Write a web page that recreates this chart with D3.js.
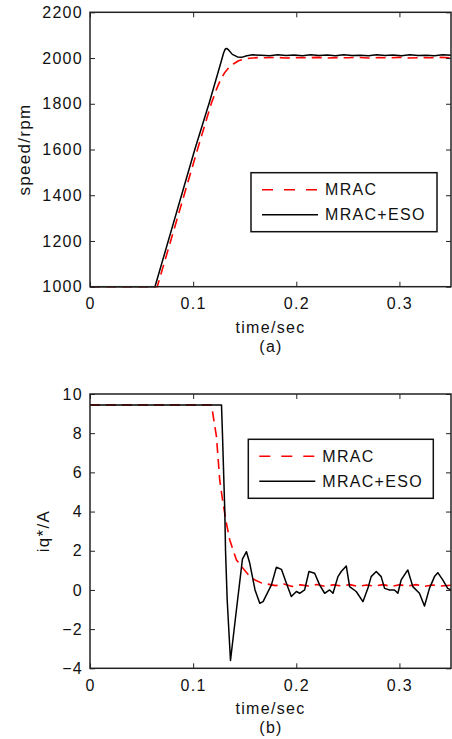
<!DOCTYPE html>
<html>
  <head>
    <meta charset="utf-8" />
    <style>
      body { margin: 0; background: #fff; }
      svg text { font-family: "Liberation Sans", Arial, sans-serif; font-size: 16px; letter-spacing: 1.3px; fill: #111; }
    </style>
  </head>
  <body>
    <svg id="chart" width="452" height="739"></svg>

    <script src="https://cdn.jsdelivr.net/npm/d3@7/dist/d3.min.js"></script>
    <script>
      // time in seconds
      const seriesNames = ["MRAC", "MRAC+ESO"];
      const timeTicks = [0, 0.1, 0.2, 0.3];
      const speedTicks = [1000, 1200, 1400, 1600, 1800, 2000, 2200];
      const iqTicks = [-4, -2, 0, 2, 4, 6, 8, 10];

      const speedMrac = [
        [0, 1000], [0.0652, 1000], [0.1042, 1600], [0.1175, 1800], [0.1225, 1862],
        [0.1265, 1905], [0.1307, 1937], [0.135, 1960], [0.139, 1974], [0.144, 1988],
        [0.149, 1995], [0.155, 1999], [0.163, 2002], [0.17, 2001], [0.18, 2003],
        [0.19, 2000], [0.2, 2002], [0.21, 2001], [0.22, 2003], [0.23, 2000],
        [0.24, 2002], [0.25, 2001], [0.26, 2003], [0.27, 2000], [0.28, 2002],
        [0.29, 2001], [0.3, 2003], [0.31, 2000], [0.32, 2002], [0.33, 2001],
        [0.34, 2003], [0.35, 2001]
      ];
      const speedEso = [
        [0, 1000], [0.063, 1000], [0.1016, 1600], [0.116, 1810], [0.1272, 1985],
        [0.1295, 2022], [0.1312, 2040], [0.1325, 2042], [0.134, 2037], [0.138, 2016],
        [0.143, 2005], [0.147, 2003], [0.152, 2010], [0.158, 2014], [0.166, 2012],
        [0.174, 2010], [0.182, 2014], [0.19, 2011], [0.198, 2013], [0.206, 2010],
        [0.214, 2014], [0.222, 2011], [0.23, 2013], [0.238, 2010], [0.246, 2014],
        [0.254, 2011], [0.262, 2012], [0.27, 2010], [0.278, 2014], [0.286, 2011],
        [0.294, 2013], [0.302, 2010], [0.31, 2014], [0.318, 2011], [0.326, 2012],
        [0.334, 2010], [0.342, 2014], [0.35, 2012]
      ];

      const iqMrac = [
        [0, 9.44], [0.1178, 9.44], [0.1226, 7.82], [0.1258, 5.6], [0.129, 4.42],
        [0.1323, 3.4], [0.1355, 2.55], [0.142, 1.53], [0.1484, 1.1], [0.1549, 0.68],
        [0.16, 0.51], [0.166, 0.36], [0.172, 0.3], [0.18, 0.22], [0.188, 0.3],
        [0.196, 0.18], [0.204, 0.26], [0.212, 0.2], [0.22, 0.28], [0.228, 0.18],
        [0.236, 0.26], [0.244, 0.2], [0.252, 0.27], [0.26, 0.18], [0.268, 0.25],
        [0.276, 0.2], [0.284, 0.27], [0.292, 0.18], [0.3, 0.26], [0.308, 0.2],
        [0.316, 0.27], [0.324, 0.18], [0.332, 0.25], [0.34, 0.2], [0.35, 0.24]
      ];
      const iqEso = [
        [0, 9.44], [0.1275, 9.44], [0.1284, 8], [0.1307, 4], [0.1314, 2],
        [0.133, -0.5], [0.1362, -3.6], [0.142, -1.0], [0.1478, 1.57], [0.1517, 1.95],
        [0.1549, 1.36], [0.16, 0], [0.1646, -0.68], [0.1678, -0.6], [0.1759, 0.26],
        [0.1807, 1.16], [0.1856, 1.05], [0.1904, 0.34], [0.1952, -0.34], [0.2001, -0.08],
        [0.2033, -0.17], [0.2081, 0], [0.2123, 0.94], [0.2178, 0.85], [0.2226, 0.26],
        [0.2275, -0.17], [0.2323, 0], [0.2356, -0.17], [0.2404, 0.68], [0.2436, 0.94],
        [0.2485, 1.22], [0.2517, 0.17], [0.2581, -0.08], [0.2646, -0.6], [0.2694, 0.08],
        [0.2726, 0.68], [0.2775, 0.94], [0.2823, 0.68], [0.2856, 0.08], [0.2904, 0],
        [0.2952, 0], [0.2985, -0.17], [0.3017, 0.51], [0.3081, 1.02], [0.313, 0.17],
        [0.3194, -0.17], [0.3243, -0.82], [0.3291, 0.08], [0.334, 0.68], [0.3372, 0.88],
        [0.342, 0.51], [0.3468, 0.08], [0.35, 0]
      ];

      const svg = d3.select("#chart");
      const left = 90, right = 451;

      drawPanel({
        top: 12.3, bottom: 286.7, domain: [1000, 2200], ticks: speedTicks,
        ylabel: "speed/rpm", ylabelX: 30, caption: "(a)",
        data: [speedMrac, speedEso],
        legend: { x: 251, y: 172.7, w: 186, h: 59 }
      });
      drawPanel({
        top: 394, bottom: 668.3, domain: [-4, 10], ticks: iqTicks,
        ylabel: "iq*/A", ylabelX: 49, caption: "(b)",
        data: [iqMrac, iqEso],
        legend: { x: 248.3, y: 439.3, w: 185, h: 59 }
      });

      function drawPanel(p) {
        const x = d3.scaleLinear().domain([0, 0.35]).range([left, right]);
        const y = d3.scaleLinear().domain(p.domain).range([p.bottom, p.top]);
        const g = svg.append("g");

        const line = d3.line().x((d) => x(d[0])).y((d) => y(d[1]));
        const styles = [
          { stroke: "#ff0000", dash: "10,6", width: 1.6 },
          { stroke: "#000", dash: null, width: 1.5 }
        ];

        g.selectAll(".series")
          .data(p.data)
          .join("path")
          .attr("fill", "none")
          .attr("stroke", (d, i) => styles[i].stroke)
          .attr("stroke-width", (d, i) => styles[i].width)
          .attr("stroke-dasharray", (d, i) => styles[i].dash)
          .attr("stroke-linejoin", "round")
          .attr("d", line);

        // box with inward ticks on all sides (matlab style)
        const tl = 5;
        g.append("g")
          .attr("transform", `translate(0,${p.bottom})`)
          .call(d3.axisBottom(x).tickValues(timeTicks).tickFormat(d3.format("")).tickSizeInner(-tl).tickSizeOuter(0).tickPadding(11))
          .call((a) => a.select(".domain").remove());
        g.append("g")
          .attr("transform", `translate(0,${p.top})`)
          .call(d3.axisTop(x).tickValues(timeTicks).tickFormat("").tickSizeInner(-tl).tickSizeOuter(0))
          .call((a) => a.select(".domain").remove());
        g.append("g")
          .attr("transform", `translate(${left},0)`)
          .call(d3.axisLeft(y).tickValues(p.ticks).tickFormat((d) => String(d).replace("-", "\u2212")).tickSizeInner(-tl).tickSizeOuter(0).tickPadding(7))
          .call((a) => a.select(".domain").remove());
        g.append("g")
          .attr("transform", `translate(${right},0)`)
          .call(d3.axisRight(y).tickValues(p.ticks).tickFormat("").tickSizeInner(-tl).tickSizeOuter(0))
          .call((a) => a.select(".domain").remove());
        g.selectAll(".tick line").attr("stroke", "#222");
        g.selectAll(".tick text").attr("fill", "#111").style("font-size", "16px")
          .style("font-family", "'Liberation Sans', Arial, sans-serif");

        g.append("rect")
          .attr("x", left).attr("y", p.top)
          .attr("width", right - left).attr("height", p.bottom - p.top)
          .attr("fill", "none").attr("stroke", "#222").attr("stroke-width", 1.5);

        g.append("text")
          .attr("x", (left + right) / 2).attr("y", p.bottom + 46)
          .attr("text-anchor", "middle").text("time/sec");
        g.append("text")
          .attr("x", (left + 270) / 2 + 0).attr("y", p.bottom + 65)
          .attr("text-anchor", "middle").text(p.caption)
          .attr("x", 271);
        g.append("text")
          .attr("transform", `translate(${p.ylabelX},${(p.top + p.bottom) / 2}) rotate(-90)`)
          .attr("text-anchor", "middle").style("font-size", "17px").text(p.ylabel);

        // legend
        const L = p.legend;
        const lg = g.append("g").attr("transform", `translate(${L.x},${L.y})`);
        lg.append("rect").attr("width", L.w).attr("height", L.h)
          .attr("fill", "#fff").attr("stroke", "#111").attr("stroke-width", 1.5);
        const rows = lg.selectAll(".row").data(seriesNames).join("g")
          .attr("transform", (d, i) => `translate(0,${17 + i * 25})`);
        rows.append("line")
          .attr("x1", 11).attr("x2", 67)
          .attr("stroke", (d, i) => styles[i].stroke)
          .attr("stroke-width", (d, i) => styles[i].width)
          .attr("stroke-dasharray", (d, i) => (i === 0 ? "11,11" : null));
        rows.append("text").attr("x", 74).attr("dy", "0.36em").text((d) => d);
      }
    </script>
  </body>
</html>
